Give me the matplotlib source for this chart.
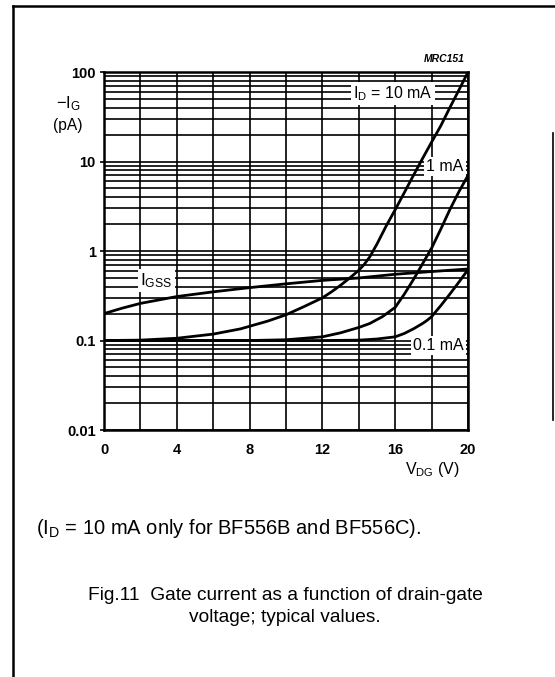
import matplotlib
matplotlib.use('Agg')
import matplotlib.pyplot as plt
from matplotlib.ticker import MultipleLocator, LogLocator, NullFormatter, FixedFormatter, FixedLocator
from matplotlib.lines import Line2D

plt.rcParams['font.family'] = ['Liberation Sans', 'DejaVu Sans']
plt.rcParams['mathtext.fontset'] = 'custom'
plt.rcParams['mathtext.rm'] = 'Liberation Sans'
plt.rcParams['mathtext.it'] = 'Liberation Sans:italic'
plt.rcParams['mathtext.bf'] = 'Liberation Sans:bold'

# curves, -IG in pA vs VDG in V
vdg_gss = [0, 1, 2, 4, 6, 8, 10, 12, 14, 16, 18, 20]
ig_gss = [0.2, 0.23, 0.26, 0.31, 0.35, 0.39, 0.43, 0.47, 0.5, 0.55, 0.59, 0.63]

vdg_10ma = [0, 2, 4, 6, 7.5, 9, 10, 11, 12, 12.5, 13, 13.5, 14, 14.3, 14.6, 15, 15.5, 16,
            16.5, 17, 17.5, 18, 18.5, 19, 19.5, 20]
ig_10ma = [0.1, 0.101, 0.106, 0.118, 0.135, 0.165, 0.194, 0.24, 0.3, 0.35, 0.415, 0.5, 0.61, 0.71,
           0.86, 1.2, 1.9, 2.9, 4.5, 7.0, 10.8, 16.5, 25, 40, 63, 100]

vdg_1ma = [0, 4, 8, 10, 12, 13, 14, 14.6, 15.3, 16, 16.5, 17, 17.5, 18, 18.5, 19, 19.5, 20]
ig_1ma = [0.1, 0.1, 0.1, 0.102, 0.11, 0.122, 0.14, 0.155, 0.185, 0.235, 0.33, 0.48, 0.72, 1.08,
          1.75, 2.9, 4.6, 7.0]

vdg_01ma = [0, 8, 12, 14, 15, 16, 16.5, 17, 17.5, 17.75, 18, 18.5, 19, 19.5, 20]
ig_01ma = [0.1, 0.1, 0.1, 0.101, 0.104, 0.11, 0.12, 0.135, 0.155, 0.168, 0.185, 0.245, 0.33,
           0.45, 0.62]

x_ticks = [0, 4, 8, 12, 16, 20]
y_ticks = [0.01, 0.1, 1, 10, 100]
y_labels = ['0.01', '0.1', '1', '10', '100']

fig = plt.figure(figsize=(5.55, 6.77), dpi=100)
ax = fig.add_axes([0.1874, 0.3648, 0.6559, 0.5288])

ax.set_yscale('log')
ax.set_xlim(0, 20)
ax.set_ylim(0.01, 100)

ax.xaxis.set_major_locator(FixedLocator(x_ticks))
ax.xaxis.set_minor_locator(MultipleLocator(2))
ax.yaxis.set_major_locator(FixedLocator(y_ticks))
ax.yaxis.set_major_formatter(FixedFormatter(y_labels))
ax.yaxis.set_minor_locator(LogLocator(base=10, subs=range(2, 10)))
ax.yaxis.set_minor_formatter(NullFormatter())

ax.grid(True, which='both', color='black', linewidth=1.2)
ax.set_axisbelow(True)
for s in ax.spines.values():
    s.set_linewidth(1.8)

ax.tick_params(axis='x', which='both', length=0, pad=9, labelsize=10.5)
ax.tick_params(axis='y', which='minor', length=0)
ax.tick_params(axis='y', which='major', length=3, width=1.2, pad=3, labelsize=10.5)
for lab in ax.get_xticklabels() + ax.get_yticklabels():
    lab.set_fontweight('bold')

for xs, ys in [(vdg_gss, ig_gss), (vdg_10ma, ig_10ma), (vdg_1ma, ig_1ma), (vdg_01ma, ig_01ma)]:
    ax.plot(xs, ys, color='black', linewidth=2.0, zorder=5, solid_capstyle='butt',
            solid_joinstyle='round')

box = dict(facecolor='white', edgecolor='none', pad=1.5)
ax.text(13.68, 57, r'$\mathrm{I_D}$ = 10 mA', fontsize=11.5, ha='left', va='center', bbox=box, zorder=4)
ax.text(19.75, 8.8, '1 mA', fontsize=11.5, ha='right', va='center', bbox=box, zorder=4)
ax.text(19.75, 0.088, '0.1 mA', fontsize=11.5, ha='right', va='center', bbox=box, zorder=4)
ax.text(2.0, 0.47, r'$\mathrm{I_{GSS}}$', fontsize=12.5, ha='left', va='center', bbox=box, zorder=4)

ax.text(0.99, 1.037, 'MRC151', transform=ax.transAxes, fontsize=7.5, fontweight='bold',
        fontstyle='italic', ha='right', va='center')
ax.text(0.827, -0.11, r'$\mathrm{V_{DG}}$ (V)', transform=ax.transAxes, fontsize=11.5,
        ha='left', va='center')

fig.text(0.1225, 0.847, r'$\mathrm{-I_G}$', fontsize=12, ha='center', va='center')
fig.text(0.1225, 0.815, '(pA)', fontsize=11.2, ha='center', va='center')

fig.text(0.065, 0.22, r'($\mathrm{I_D}$ = 10 mA only for BF556B and BF556C).', fontsize=14.5,
         ha='left', va='center')
fig.text(0.514, 0.104, 'Fig.11  Gate current as a function of drain-gate\nvoltage; typical values.',
         fontsize=13.8, ha='center', va='center', multialignment='center', linespacing=1.4)

# frame lines of the datasheet page
fig.add_artist(Line2D([0.0234, 0.0234], [0.0, 0.991], color='black', linewidth=1.8))
fig.add_artist(Line2D([0.0234, 1.0], [0.991, 0.991], color='black', linewidth=1.8))
fig.add_artist(Line2D([0.9964, 0.9964], [0.3796, 0.8035], color='black', linewidth=1.2))

fig.savefig('out.png', dpi=100)
